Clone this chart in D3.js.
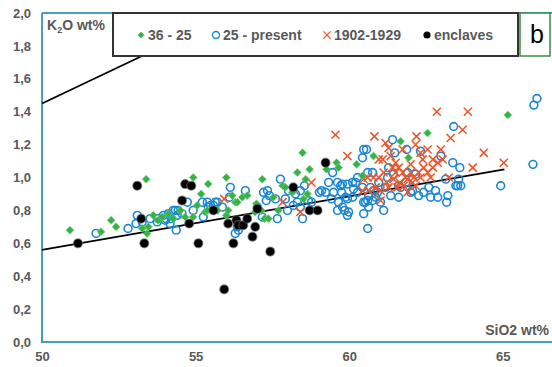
<!DOCTYPE html>
<html>
<head>
<meta charset="utf-8">
<script src="https://cdn.jsdelivr.net/npm/d3@7"></script>
<style>
  body { margin: 0; background: #fff; }
  svg { display: block; font-family: "Liberation Sans", Arial, sans-serif; }
</style>
</head>
<body>
<svg width="552" height="367"></svg>
<script>
// SiO2 / K2O pairs
var series3625 = [[50.91,0.68],[51.92,0.67],[52.25,0.74],[52.41,0.70],[53.39,0.99],[53.26,0.69],[53.42,0.66],[53.62,0.77],[53.78,0.74],[53.46,0.70],[53.91,0.76],[54.11,0.78],[54.27,0.75],[54.50,0.80],[54.66,0.76],[54.92,1.00],[55.41,0.96],[55.18,0.90],[55.05,0.83],[54.92,0.76],[55.31,0.79],[55.71,0.80],[56.00,1.00],[56.19,0.89],[56.00,0.77],[56.06,0.80],[56.29,0.85],[56.52,0.88],[56.68,0.89],[56.98,0.84],[57.17,0.99],[56.94,0.79],[57.14,0.80],[57.24,0.75],[57.37,0.75],[57.53,0.88],[57.69,0.80],[57.83,0.95],[57.92,0.94],[58.15,0.91],[58.31,1.03],[58.48,1.15],[58.71,1.05],[58.58,0.99],[58.64,0.90],[58.51,0.87],[59.26,1.05],[59.59,1.09],[59.65,1.06],[60.24,1.08],[60.43,1.01],[60.79,1.13],[61.67,1.22],[61.93,1.12],[62.55,1.27],[65.16,1.38],[56.36,0.85],[55.38,0.80]];

var series25present = [[51.76,0.66],[52.80,0.69],[53.10,0.77],[53.06,0.72],[53.26,0.73],[53.52,0.75],[53.78,0.75],[53.95,0.77],[54.04,0.75],[54.21,0.75],[54.37,0.68],[54.34,0.80],[54.11,0.78],[54.40,0.77],[54.56,0.78],[54.73,0.85],[55.25,0.76],[55.38,0.85],[55.48,0.83],[55.71,0.85],[54.01,0.74],[54.17,0.72],[53.75,0.73],[54.27,0.80],[54.43,0.80],[54.92,0.80],[55.41,0.82],[55.58,0.83],[55.87,0.82],[56.13,0.94],[56.10,0.88],[56.29,0.66],[56.39,0.68],[57.01,0.82],[57.21,0.91],[55.22,0.85],[55.64,0.85],[56.62,0.92],[57.34,0.92],[57.40,0.89],[57.76,0.99],[57.92,0.87],[58.02,0.92],[58.25,0.90],[58.41,0.92],[58.18,0.83],[58.31,0.85],[57.66,0.75],[57.99,0.80],[58.41,0.82],[58.67,0.86],[58.54,0.95],[59.46,1.03],[59.33,0.97],[59.03,0.91],[59.23,0.91],[59.49,0.91],[59.72,0.95],[59.65,0.85],[59.85,0.80],[59.94,0.87],[60.14,0.93],[60.21,0.97],[60.27,1.00],[60.47,1.17],[60.43,1.12],[60.53,0.85],[60.47,0.78],[60.60,0.69],[60.79,0.92],[60.86,0.88],[57.30,0.86],[56.36,0.70],[57.60,0.87],[58.48,0.75],[58.77,0.85],[59.10,0.92],[59.62,0.97],[59.78,0.96],[59.94,0.96],[60.11,0.97],[59.62,0.80],[59.78,0.82],[59.98,0.79],[59.94,0.77],[59.42,0.87],[59.75,0.91],[59.88,0.88],[60.11,0.88],[60.27,0.91],[60.43,0.94],[60.60,0.86],[60.60,1.03],[57.17,0.76],
  [63.40,1.31],[61.87,1.17],[63.37,1.09],[63.53,0.95],[63.14,0.99],[63.21,0.89],[63.17,0.85],[62.81,0.92],[62.59,0.94],[62.42,0.91],[62.88,0.88],[62.65,0.88],[62.26,0.89],[62.06,0.92],[61.61,0.88],[61.35,0.89],[61.18,0.94],[60.96,0.97],[60.76,1.03],[60.69,0.94],[60.92,0.91],[61.25,1.00],[61.44,1.02],[60.63,0.89],[60.63,0.82],[60.76,0.86],[61.02,0.85],[61.12,0.80],[60.56,1.17],[61.61,0.95],[61.84,0.97],[61.90,1.03],[61.48,1.15],[62.16,1.02],[61.28,1.06],[66.11,1.48],[66.01,1.44],[61.41,1.23],[62.32,1.16],[62.98,1.13],[63.60,1.06],[64.93,0.95],[65.98,1.08],[63.47,0.95],[63.63,0.95],[63.56,0.99],[62.00,0.91],[60.47,0.85],[61.67,0.94]];

var series1902 = [[55.93,0.87],[57.83,0.85],[58.41,0.79],[58.77,0.97],[59.55,1.26],[59.94,1.13],[60.43,0.92],[60.60,1.00],[62.85,1.40],[63.86,1.40],[63.69,1.29],[63.30,1.24],[60.82,1.25],[61.18,1.21],[61.28,1.18],[62.19,1.25],[62.16,1.20],[62.55,1.17],[62.98,1.17],[64.38,1.15],[65.03,1.09],[64.02,1.06],[63.04,1.11],[62.88,1.09],[62.72,1.11],[62.39,1.11],[62.72,1.06],[60.96,1.11],[61.09,1.11],[61.35,1.13],[61.51,1.09],[61.61,1.06],[61.12,1.03],[60.79,1.00],[60.96,1.00],[61.51,1.03],[61.74,1.03],[61.84,1.00],[62.00,1.03],[62.10,1.00],[62.26,1.03],[62.42,1.06],[62.32,1.00],[62.55,1.03],[62.65,1.00],[61.64,0.97],[61.77,0.95],[61.90,0.99],[62.06,0.97],[62.16,0.95],[61.57,0.94],[61.28,0.94],[61.02,0.92],[60.86,0.94],[60.63,0.92],[61.02,0.86],[63.24,1.00],[61.90,0.91],[61.74,1.17],[62.32,1.15],[61.41,1.06],[61.22,0.97],[61.44,0.99],[62.00,1.08],[60.47,0.99]];

var enclaves = [[51.17,0.60],[53.10,0.95],[53.23,0.75],[53.33,0.60],[54.56,0.86],[54.66,0.96],[54.86,0.95],[54.79,0.72],[55.09,0.60],[55.58,0.80],[56.06,0.72],[56.33,0.74],[56.39,0.71],[56.55,0.71],[56.68,0.75],[56.23,0.60],[56.94,0.70],[56.85,0.64],[57.01,0.81],[55.93,0.32],[57.43,0.55],[58.18,0.94],[58.71,0.80],[58.97,0.80],[59.23,1.09]];

var lowLine = [[50,0.56],[65.05,1.05]];
var highLine = [[50,1.45],[56.2,2.0]];

var xTicks = [50,55,60,65];
var yTicks = [0,0.2,0.4,0.6,0.8,1.0,1.2,1.4,1.6,1.8,2.0];
var legendLabels = ["36 - 25","25 - present","1902-1929","enclaves"];

var teal = "#46a0b6", grey = "#595959";
var green = "#35b344", blue = "#1b86d2", red = "#ee5428";

var svg = d3.select("svg");
var x = d3.scaleLinear().domain([50, 66.6]).range([42, 552]);
var y = d3.scaleLinear().domain([0, 2]).range([342, 13]);

// axes, labels only
var yAxis = svg.append("g").attr("transform", "translate(42,0)")
  .call(d3.axisLeft(y).tickValues(yTicks).tickSize(0).tickPadding(11)
    .tickFormat(function(d){ return d3.format(".1f")(d).replace(".", ","); }));
var xAxis = svg.append("g").attr("transform", "translate(0,342)")
  .call(d3.axisBottom(x).tickValues(xTicks).tickSize(0).tickPadding(10));
svg.selectAll(".domain").remove();
svg.selectAll(".tick text")
  .attr("fill", grey).style("font-size", "13px").style("font-weight", "bold")
  .style("font-family", '"Liberation Sans", Arial, sans-serif');

// frame
svg.append("path")
  .attr("d", "M42,13V342H552M42,13H552")
  .attr("fill", "none").attr("stroke", teal).attr("stroke-width", 2);

var line = d3.line().x(function(d){ return x(d[0]); }).y(function(d){ return y(d[1]); });
svg.append("path").datum(lowLine).attr("d", line)
  .attr("fill", "none").attr("stroke", "#000").attr("stroke-width", 1.8);
svg.append("path").datum(highLine).attr("d", line)
  .attr("fill", "none").attr("stroke", "#000").attr("stroke-width", 1.8);

var diamond = d3.symbol(d3.symbolSquare, 32);
var cross = d3.symbol(d3.symbolTimes, 44);

function tr(d){ return "translate(" + x(d[0]) + "," + y(d[1]) + ")"; }

svg.append("g").selectAll("circle").data(series25present).join("circle")
  .attr("cx", function(d){ return x(d[0]); }).attr("cy", function(d){ return y(d[1]); })
  .attr("r", 3.9).attr("fill", "none").attr("stroke", blue).attr("stroke-width", 1.6);

svg.append("g").selectAll("path").data(series1902).join("path")
  .attr("d", cross).attr("transform", tr)
  .attr("fill", "none").attr("stroke", red).attr("stroke-width", 1.5);

svg.append("g").selectAll("path").data(series3625).join("path")
  .attr("d", diamond).attr("transform", function(d){ return tr(d) + " rotate(45)"; })
  .attr("fill", green).attr("stroke", "#7fd08a").attr("stroke-width", 0.6);

svg.append("g").selectAll("circle").data(enclaves).join("circle")
  .attr("cx", function(d){ return x(d[0]); }).attr("cy", function(d){ return y(d[1]); })
  .attr("r", 4.5).attr("fill", "#000").attr("stroke", "#777").attr("stroke-opacity", 0.6).attr("stroke-width", 1.2);

// axis titles
var k2o = svg.append("text").attr("x", 47).attr("y", 30)
  .attr("fill", grey).style("font-size", "14px").style("font-weight", "bold");
k2o.append("tspan").text("K");
k2o.append("tspan").text("2").attr("dy", 3).style("font-size", "9px");
k2o.append("tspan").text("O wt%").attr("dy", -3);

svg.append("text").attr("x", 549).attr("y", 335).attr("text-anchor", "end")
  .attr("fill", grey).style("font-size", "14px").style("font-weight", "bold")
  .text("SiO2 wt%");

// legend
var lg = svg.append("g");
lg.append("rect").attr("x", 113).attr("y", 13).attr("width", 405).attr("height", 43)
  .attr("fill", "#fff").attr("stroke", "#333").attr("stroke-width", 2);
var itemX = [141, 216, 327, 427];
lg.append("path").attr("d", d3.symbol(d3.symbolSquare, 22)())
  .attr("transform", "translate(" + itemX[0] + ",35) rotate(45)").attr("fill", green);
lg.append("circle").attr("cx", itemX[1]).attr("cy", 35).attr("r", 3.5)
  .attr("fill", "none").attr("stroke", blue).attr("stroke-width", 1.4);
lg.append("path").attr("d", d3.symbol(d3.symbolTimes, 36)())
  .attr("transform", "translate(" + itemX[2] + ",35)").attr("fill", "none").attr("stroke", red).attr("stroke-width", 1.4);
lg.append("circle").attr("cx", itemX[3]).attr("cy", 35).attr("r", 3.6).attr("fill", "#000");
lg.selectAll("text.lbl").data(legendLabels).join("text").attr("class", "lbl")
  .attr("x", function(d, i){ return itemX[i] + 7; }).attr("y", 40)
  .attr("fill", grey).style("font-size", "14px").style("font-weight", "bold")
  .text(function(d){ return d; });

// panel letter
svg.append("rect").attr("x", 520).attr("y", 13).attr("width", 30).attr("height", 43)
  .attr("fill", "#fff").attr("stroke", "#3e8a4a").attr("stroke-width", 1.5);
svg.append("text").attr("x", 530).attr("y", 43).attr("fill", "#000")
  .style("font-size", "25px").text("b");
</script>
</body>
</html>
